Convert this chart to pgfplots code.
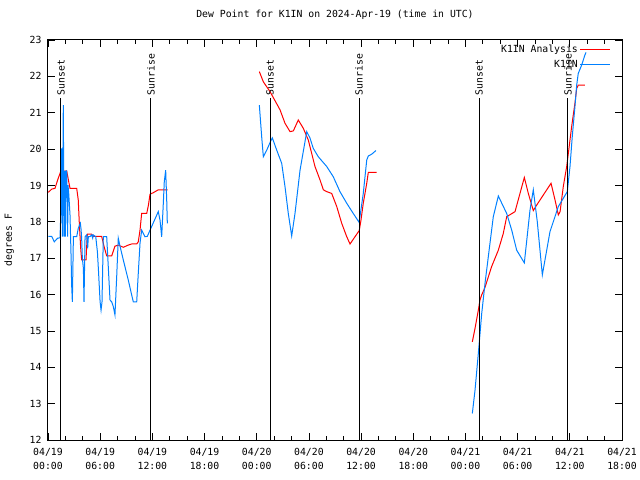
\documentclass[border=0pt]{standalone}
\usepackage{pgfplots}
\pgfplotsset{compat=1.18}
\usepackage{fontspec}
\setmainfont{DejaVu Sans Mono}
\definecolor{gred}{RGB}{255,0,0}
\definecolor{gblue}{RGB}{0,128,255}
\begin{document}
\fontsize{9.8bp}{11bp}\selectfont
\begin{tikzpicture}
\begin{axis}[
  at={(0,0)}, anchor=south west,
  scale only axis, width=574bp, height=400bp,
  xmin=0, xmax=66, ymin=12, ymax=23,
  xtick={0,6,...,66},
  xticklabels={{04/19\\00:00},{04/19\\06:00},{04/19\\12:00},{04/19\\18:00},{04/20\\00:00},{04/20\\06:00},{04/20\\12:00},{04/20\\18:00},{04/21\\00:00},{04/21\\06:00},{04/21\\12:00},{04/21\\18:00}},
  xticklabel style={align=center, font=\fontsize{9.8bp}{14bp}\selectfont, yshift=-5bp},
  yticklabel style={xshift=-3bp},
  minor x tick num=2,
  ytick={12,...,23},
  /pgf/number format/assume math mode=true,
  tick align=inside,
  major tick length=7bp, minor tick length=4bp,
  axis line style={line width=1bp},
  every tick/.style={black, line width=0.8bp},
  title={Dew Point for K1IN on 2024-Apr-19 (time in UTC)},
  title style={at={(0.5,1)}, anchor=base, yshift=17bp},
  ylabel={degrees F},
  ylabel style={yshift=9bp},
  unbounded coords=jump,
  legend style={draw=none, fill=none, at={(1,1)}, anchor=north east, xshift=-8bp, yshift=-1bp, row sep=2bp},
  legend cell align=right,
  legend plot pos=right,
  legend image code/.code={\draw[#1] (0bp,0bp) -- (30bp,0bp);},
]
\addplot[gred, line width=1bp] coordinates {
(0.03,18.81) (0.43,18.90) (0.8,18.92) (1.18,19.2) (1.46,19.38) (2.15,19.40) (2.53,18.92) (3.30,18.92) (3.48,18.6) (3.60,17.96) (3.76,17.27) (3.87,16.95) (4.37,16.95) (4.52,17.66) (5.02,17.66) (5.21,17.60) (6.17,17.60) (6.47,17.3) (6.75,17.06) (7.32,17.06) (7.70,17.33) (8.08,17.36) (8.66,17.30) (9.23,17.36) (9.62,17.39) (10.2,17.39) (10.38,17.45) (10.58,17.77) (10.77,18.23) (11.35,18.23) (11.55,18.46) (11.73,18.76) (12.1,18.80) (12.68,18.88) (13.76,18.88)
(20,nan)
(24.30,22.13) (24.76,21.85) (25.53,21.58) (26.68,21.08) (27.25,20.71) (27.83,20.48) (28.21,20.50) (28.78,20.80) (29.36,20.57) (29.93,20.25) (30.70,19.52) (31.28,19.15) (31.66,18.88) (32.05,18.83) (32.62,18.78) (33.2,18.42) (33.77,17.96) (34.35,17.59) (34.73,17.39) (35.30,17.59) (35.79,17.76) (35.99,18.05) (36.25,18.51) (36.65,19.06) (36.83,19.36) (37.79,19.36)
(44,nan)
(48.79,14.70) (49.10,15.07) (49.48,15.57) (49.67,15.85) (49.87,15.99) (50.25,16.2) (51.01,16.77) (51.78,17.22) (52.35,17.68) (52.74,18.14) (53.70,18.28) (54.27,18.78) (54.77,19.22) (55.23,18.78) (55.80,18.31) (56.19,18.46) (56.96,18.74) (57.84,19.06) (58.30,18.6) (58.68,18.19) (58.88,18.28) (59.25,18.97) (59.64,19.52) (59.83,19.88) (60.02,20.25) (60.21,20.62) (60.40,20.94) (60.59,21.26) (60.79,21.67) (60.97,21.76) (61.74,21.76)
};
\addlegendentry{K1IN Analysis}
\addplot[gblue, line width=1bp] coordinates {
(0.03,17.60) (0.43,17.60) (0.72,17.45) (1.11,17.55) (1.38,17.56) (1.5,18.42) (1.57,20.02) (1.65,17.59) (1.76,21.21) (1.84,17.59) (1.95,19.40) (2.0,17.59) (2.07,19.40) (2.15,19.40) (2.2,18.83) (2.26,17.59) (2.3,19.01) (2.38,18.8) (2.53,18.19) (2.64,17.18) (2.72,16.26) (2.80,15.80) (2.92,17.59) (3.30,17.59) (3.48,17.82) (3.72,17.96) (3.80,17.8) (3.87,17.55) (3.95,17.0) (4.07,16.72) (4.14,15.80) (4.26,17.59) (4.45,17.64) (4.56,17.27) (4.64,17.59) (4.83,17.59) (5.02,17.64) (5.14,17.55) (5.2,17.64) (5.49,17.59) (5.68,17.18) (5.79,16.72) (5.99,15.80) (6.1,15.57) (6.21,15.80) (6.36,17.59) (6.75,17.59) (6.93,16.77) (7.13,15.85) (7.32,15.80) (7.51,15.67) (7.70,15.44) (7.9,16.5) (8.08,17.55) (8.28,17.33) (8.66,16.95) (9.23,16.40) (9.62,15.99) (9.81,15.80) (10.2,15.80) (10.38,16.58) (10.58,17.41) (10.77,17.77) (11.15,17.59) (11.42,17.60) (11.73,17.77) (12.68,18.28) (12.88,18.05) (13.07,17.59) (13.26,18.51) (13.37,19.10) (13.53,19.42) (13.65,18.60) (13.72,17.96)
(20,nan)
(24.30,21.21) (24.57,20.34) (24.76,19.79) (25.15,19.97) (25.53,20.18) (25.79,20.31) (26.3,19.97) (26.87,19.61) (27.25,18.97) (27.63,18.23) (28.02,17.61) (28.4,18.23) (28.98,19.42) (29.75,20.48) (30.13,20.30) (30.5,20.02) (31.08,19.79) (32.05,19.52) (32.8,19.24) (33.57,18.83) (34.35,18.51) (35.1,18.23) (35.76,17.99) (35.87,18.14) (36.25,18.78) (36.65,19.70) (36.83,19.81) (37.22,19.86) (37.71,19.96)
(44,nan)
(48.79,12.73) (49.10,13.37) (49.48,14.38) (49.87,15.48) (50.25,16.31) (50.82,17.41) (51.20,18.14) (51.78,18.71) (52.74,18.23) (53.32,17.77) (53.89,17.22) (54.77,16.87) (55.42,18.32) (55.80,18.88) (56.26,18.0) (56.84,16.54) (57.72,17.73) (58.68,18.42) (59.71,18.83) (60.02,19.52) (60.28,20.34) (60.59,21.17) (60.79,21.76) (60.97,22.08) (61.36,22.31) (61.74,22.59) (61.86,22.66)
};
\addlegendentry{K1IN}
\addplot[black, line width=1bp, forget plot] coordinates {(1.49,12) (1.49,21.4)};
\addplot[black, line width=1bp, forget plot] coordinates {(11.84,12) (11.84,21.4)};
\addplot[black, line width=1bp, forget plot] coordinates {(25.53,12) (25.53,21.4)};
\addplot[black, line width=1bp, forget plot] coordinates {(35.76,12) (35.76,21.4)};
\addplot[black, line width=1bp, forget plot] coordinates {(49.56,12) (49.56,21.4)};
\addplot[black, line width=1bp, forget plot] coordinates {(59.79,12) (59.79,21.4)};
\node[rotate=90, anchor=west, inner sep=1bp] at (axis cs:1.49,21.45) {Sunset};
\node[rotate=90, anchor=west, inner sep=1bp] at (axis cs:11.84,21.45) {Sunrise};
\node[rotate=90, anchor=west, inner sep=1bp] at (axis cs:25.53,21.45) {Sunset};
\node[rotate=90, anchor=west, inner sep=1bp] at (axis cs:35.76,21.45) {Sunrise};
\node[rotate=90, anchor=west, inner sep=1bp] at (axis cs:49.56,21.45) {Sunset};
\node[rotate=90, anchor=west, inner sep=1bp] at (axis cs:59.79,21.45) {Sunrise};
\end{axis}
\pgfresetboundingbox
\path[use as bounding box] (-48bp,-40bp) rectangle (592bp,440bp);
\end{tikzpicture}
\end{document}
